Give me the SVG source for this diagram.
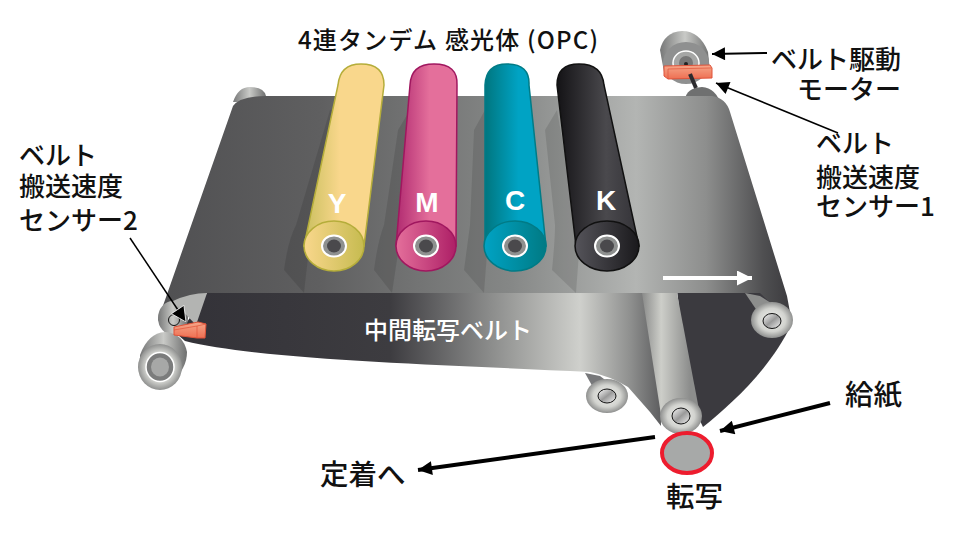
<svg xmlns="http://www.w3.org/2000/svg" width="961" height="542" viewBox="0 0 961 542">
<style>
text{font-family:"Noto Sans CJK JP","Liberation Sans",sans-serif;font-size:26px;fill:#111;font-weight:500}
.t{font-size:24px}
.b{font-size:28.5px}
.l{font-family:"Liberation Sans",sans-serif;font-size:28px;fill:#fff;font-weight:700;text-anchor:middle}
.line{stroke:#000;fill:none}
.sh{fill:#000;opacity:.11}
</style>
<defs>
<linearGradient id="belt" gradientUnits="userSpaceOnUse" x1="160" y1="0" x2="795" y2="0">
<stop offset="0" stop-color="#505052"/><stop offset=".25" stop-color="#5f5f60"/><stop offset=".55" stop-color="#858786"/><stop offset=".75" stop-color="#b3b5b3"/><stop offset=".86" stop-color="#8d8e8d"/><stop offset=".95" stop-color="#4f4f51"/><stop offset="1" stop-color="#38373b"/>
</linearGradient>
<linearGradient id="under" gradientUnits="userSpaceOnUse" x1="180" y1="0" x2="680" y2="0">
<stop offset="0" stop-color="#333238"/><stop offset=".42" stop-color="#3d3c40"/><stop offset=".62" stop-color="#8b8c8b"/><stop offset=".8" stop-color="#cfd0cc"/><stop offset=".9" stop-color="#8f908f"/><stop offset="1" stop-color="#3f3f42"/>
</linearGradient>
<linearGradient id="strip" gradientUnits="userSpaceOnUse" x1="642" y1="0" x2="690" y2="0">
<stop offset="0" stop-color="#8a8b8a"/><stop offset=".4" stop-color="#cdcec9"/><stop offset="1" stop-color="#8c8d8c"/>
</linearGradient>
<radialGradient id="face"><stop offset="0" stop-color="#f4f4f1"/><stop offset=".65" stop-color="#d2d3cf"/><stop offset="1" stop-color="#8f908f"/></radialGradient>
<linearGradient id="cyl" x1="0" y1="0" x2="1" y2="0"><stop offset="0" stop-color="#777878"/><stop offset=".5" stop-color="#c9cac7"/><stop offset="1" stop-color="#6e6f6f"/></linearGradient>
<linearGradient id="shaft" x1="0" y1="0" x2="1" y2="1"><stop offset="0" stop-color="#fff"/><stop offset=".5" stop-color="#999"/><stop offset="1" stop-color="#f4f4f4"/></linearGradient>
<linearGradient id="yg" x1="0" y1="0" x2="1" y2="0"><stop offset="0" stop-color="#c9bf5e"/><stop offset=".45" stop-color="#f9d78c"/><stop offset="1" stop-color="#f9d78c"/></linearGradient>
<linearGradient id="mg" x1="0" y1="0" x2="1" y2="0"><stop offset="0" stop-color="#b02a70"/><stop offset=".55" stop-color="#e46f9b"/><stop offset="1" stop-color="#e46f9b"/></linearGradient>
<linearGradient id="cg" x1="0" y1="0" x2="1" y2="0"><stop offset="0" stop-color="#00767f"/><stop offset=".55" stop-color="#00a3c4"/><stop offset="1" stop-color="#00a3c4"/></linearGradient>
<linearGradient id="kg" x1="0" y1="0" x2="1" y2="0"><stop offset="0" stop-color="#141316"/><stop offset=".6" stop-color="#4a494d"/><stop offset="1" stop-color="#333237"/></linearGradient>
<linearGradient id="yf" x1="0" y1="0" x2="1" y2="0"><stop offset="0" stop-color="#f9d78c"/><stop offset="1" stop-color="#c6bb50"/></linearGradient>
<linearGradient id="mf" x1="0" y1="0" x2="1" y2="0"><stop offset="0" stop-color="#e46f9b"/><stop offset="1" stop-color="#ad1f66"/></linearGradient>
<linearGradient id="cf" x1="0" y1="0" x2="1" y2="0"><stop offset="0" stop-color="#00a3c4"/><stop offset="1" stop-color="#007a84"/></linearGradient>
<linearGradient id="kf" x1="0" y1="0" x2="1" y2="0"><stop offset="0" stop-color="#55545a"/><stop offset="1" stop-color="#1a191c"/></linearGradient>
<linearGradient id="sens" x1="0" y1="0" x2="0" y2="1"><stop offset="0" stop-color="#f6a78a"/><stop offset="1" stop-color="#ee6f52"/></linearGradient>
<marker id="big" viewBox="0 0 10 10" refX="10" refY="5" markerWidth="16" markerHeight="14" orient="auto" markerUnits="userSpaceOnUse"><path d="M0 0L10 5L0 10z" fill="#000"/></marker>
<marker id="thin" viewBox="0 0 10 10" refX="10" refY="5" markerWidth="17" markerHeight="13" orient="auto" markerUnits="userSpaceOnUse"><path d="M0 0L10 5L0 10z" fill="#000"/></marker>
<marker id="halo" viewBox="-1 -1 12 12" refX="10" refY="5" markerWidth="22" markerHeight="18" orient="auto" markerUnits="userSpaceOnUse"><path d="M0 0L10 5L0 10z" fill="#000" stroke="#fff" stroke-width=".5"/></marker>
<marker id="wh" viewBox="0 0 10 10" refX="10" refY="5" markerWidth="16" markerHeight="15" orient="auto" markerUnits="userSpaceOnUse"><path d="M0 0L10 5L0 10z" fill="#fff"/></marker>
</defs>

<g id="roller-top-left"><path d="M233 102Q238 87 250 87Q264 87 266 96L266 102z" fill="url(#cyl)"/></g>
<g id="motor-roller">
<path d="M660 50Q664 32 682 31Q700 31 708 52L710 72L664 72z" fill="url(#cyl)"/>
<ellipse cx="686" cy="63" rx="23" ry="21" fill="#8f9090"/>
<ellipse cx="686" cy="63" rx="13" ry="12" fill="#a5a6a5" stroke="#fff" stroke-width="1.5"/>
<ellipse cx="686" cy="63" rx="7" ry="7" fill="#777"/><circle cx="686" cy="64" r="2" fill="#222"/>
<path d="M685 100Q686 88 702 87Q716 88 721 105L690 105z" fill="#6f7070"/>
</g>

<g id="belt-under">
<path d="M677 290L765 290L792 323C770 370 730 405 703 427L690 400z" fill="#3b3a3f"/>
</g>
<g id="belt-top">
<path d="M233 106Q240 96 266 96L712 96Q726 98 730 112L787 296L792 323L760 293L207 293L160 322L158 320z" fill="url(#belt)"/>
</g>
<g id="band">
<path d="M207 293L660 293L661 426L650 412L628 387Q610 376 590 372C450 365 260 360 185 341L178 335z" fill="url(#under)"/>
<path d="M642 293L677 293L700 415L661 415z" fill="url(#strip)"/>
</g>

<g id="roller-left">
<ellipse cx="173" cy="318" rx="15" ry="17" fill="url(#cyl)"/>
<path d="M173 301Q190 293 207 293L196 325z" fill="#b3b4b2"/>
<circle cx="174" cy="320" r="5.5" fill="none" stroke="#111" stroke-width="1"/>
</g>
<g id="roller-lower-left">
<path d="M140 355Q148 333 165 332Q183 333 187 352Q187 368 172 382L140 370z" fill="url(#cyl)"/>
<ellipse cx="160" cy="367" rx="22" ry="23" fill="url(#face)"/>
<ellipse cx="160" cy="367" rx="14" ry="14.5" fill="#7b7c7c" stroke="#fff" stroke-width="1.5"/>
<ellipse cx="160" cy="367" rx="9" ry="9.5" fill="#a7a8a7"/>
</g>
<g id="roller-back">
<path d="M585 373L600 376L625 395L600 400z" fill="#77787a"/>
<ellipse cx="607" cy="396" rx="21" ry="17" fill="url(#face)"/>
<ellipse cx="607" cy="396" rx="9" ry="7" fill="url(#shaft)" stroke="#111" stroke-width="1"/>
</g>
<g id="roller-nip">
<ellipse cx="681" cy="416" rx="21" ry="18" fill="url(#face)"/>
<ellipse cx="681" cy="416" rx="9" ry="8" fill="url(#shaft)" stroke="#111" stroke-width="1"/>
</g>
<g id="roller-right">
<path d="M745 293L760 296L790 315L770 330z" fill="#8d8e8d"/>
<ellipse cx="772" cy="320" rx="21" ry="18" fill="url(#face)"/>
<ellipse cx="772" cy="321" rx="9" ry="7.5" fill="url(#shaft)" stroke="#111" stroke-width="1"/>
</g>

<g id="drum-shadows">
<path d="M330 110L338 110L310 240L304 293L284 270Q288 240 296 225z" class="sh"/>
<path d="M398 130L410 110L400 240L392 293L374 270Q378 240 384 225z" class="sh"/>
<path d="M474 130L485 110L488 240L484 293L464 270Q468 240 470 225z" class="sh"/>
<path d="M545 130L557 110L580 240L576 293L552 270Q555 240 555 225z" class="sh"/>
</g>

<g id="drum-y">
<path d="M338 85Q340 64 361 64Q384 64 384 85L364 246L304 246z" fill="url(#yg)" stroke="#b5ad3a" stroke-width="1.5"/>
<ellipse cx="334" cy="246" rx="30" ry="25" fill="url(#yf)" stroke="#b5ad3a" stroke-width="1.5"/>
<ellipse cx="334" cy="246" rx="12" ry="10.5" fill="#8e908f" stroke="#fff" stroke-width="2"/><ellipse cx="334" cy="246" rx="7" ry="6.5" fill="#4a494c"/>
<text class="l" x="337" y="213">Y</text>
</g>
<g id="drum-m">
<path d="M410 85Q411 64 434 64Q458 64 457 85L456 246L396 246z" fill="url(#mg)" stroke="#a0175f" stroke-width="1.5"/>
<ellipse cx="426" cy="246" rx="30" ry="25" fill="url(#mf)" stroke="#a0175f" stroke-width="1.5"/>
<ellipse cx="426" cy="246" rx="12" ry="10.5" fill="#8e908f" stroke="#fff" stroke-width="2"/><ellipse cx="426" cy="246" rx="7" ry="6.5" fill="#4a494c"/>
<text class="l" x="427" y="212">M</text>
</g>
<g id="drum-c">
<path d="M485 85Q486 64 507 64Q530 64 529 85L546 246L485 246z" fill="url(#cg)" stroke="#007b86" stroke-width="1.5"/>
<ellipse cx="515" cy="246" rx="31" ry="25" fill="url(#cf)" stroke="#007b86" stroke-width="1.5"/>
<ellipse cx="515" cy="246" rx="12" ry="10.5" fill="#8e908f" stroke="#fff" stroke-width="2"/><ellipse cx="515" cy="246" rx="7" ry="6.5" fill="#4a494c"/>
<text class="l" x="515" y="210">C</text>
</g>
<g id="drum-k">
<path d="M557 85Q557 64 579 64Q602 64 604 85L639 246L576 246z" fill="url(#kg)" stroke="#111" stroke-width="1.5"/>
<ellipse cx="607" cy="246" rx="32" ry="25" fill="url(#kf)" stroke="#111" stroke-width="1.5"/>
<ellipse cx="607" cy="246" rx="12" ry="10.5" fill="#8e908f" stroke="#fff" stroke-width="2"/><ellipse cx="607" cy="246" rx="7" ry="6.5" fill="#4a494c"/>
<text class="l" x="606" y="210">K</text>
</g>

<g id="sensor-1">
<path d="M664 66L710 65L712 68L712 78L668 79L664 76z" fill="url(#sens)" stroke="#e0533a" stroke-width="1"/>
<path d="M668 69L711 68M668 69L668 79" stroke="#e0533a" stroke-width=".7" fill="none"/>
<path d="M690 74L696 88" stroke="#2c2b2e" stroke-width="4" fill="none"/>
</g>
<g id="sensor-2">
<path d="M174 327L198 322L206 324L205 338L197 338L174 335z" fill="url(#sens)" stroke="#e0533a" stroke-width="1"/>
<path d="M174 330L197 326L206 324M197 326L197 338" stroke="#e0533a" stroke-width=".7" fill="none"/>
</g>
<g id="transfer"><ellipse cx="687" cy="453" rx="25" ry="20" fill="#a7a9a8" stroke="#ed1c2e" stroke-width="4"/></g>

<g id="connectors">
<path class="line" d="M767 53L712 54" stroke-width="2" marker-end="url(#thin)"/>
<path class="line" d="M838 133L716 83" stroke-width="1.5" marker-end="url(#thin)"/>
<path class="line" d="M130 238L186 322" stroke-width="1.5" marker-end="url(#halo)"/>
<path class="line" d="M830 403L720 431" stroke-width="4" marker-end="url(#big)"/>
<path class="line" d="M655 437L418 470" stroke-width="4" marker-end="url(#big)"/>
<path d="M663 278L752 278" stroke="#fff" stroke-width="4" fill="none" marker-end="url(#wh)"/>
</g>

<g id="labels">
<text class="t" x="298" y="49" textLength="300">4連タンデム 感光体 (OPC)</text>
<text x="771" y="69">ベルト駆動</text>
<text x="797" y="99">モーター</text>
<text x="816" y="153">ベルト</text>
<text x="816" y="187">搬送速度</text>
<text x="816" y="216">センサー1</text>
<text x="19" y="165">ベルト</text>
<text x="19" y="196">搬送速度</text>
<text x="19" y="230">センサー2</text>
<text class="t" x="364" y="339" style="fill:#fff">中間転写ベルト</text>
<text class="b" x="845" y="405">給紙</text>
<text class="b" x="320" y="485">定着へ</text>
<text class="b" x="666" y="507">転写</text>
</g>
</svg>
